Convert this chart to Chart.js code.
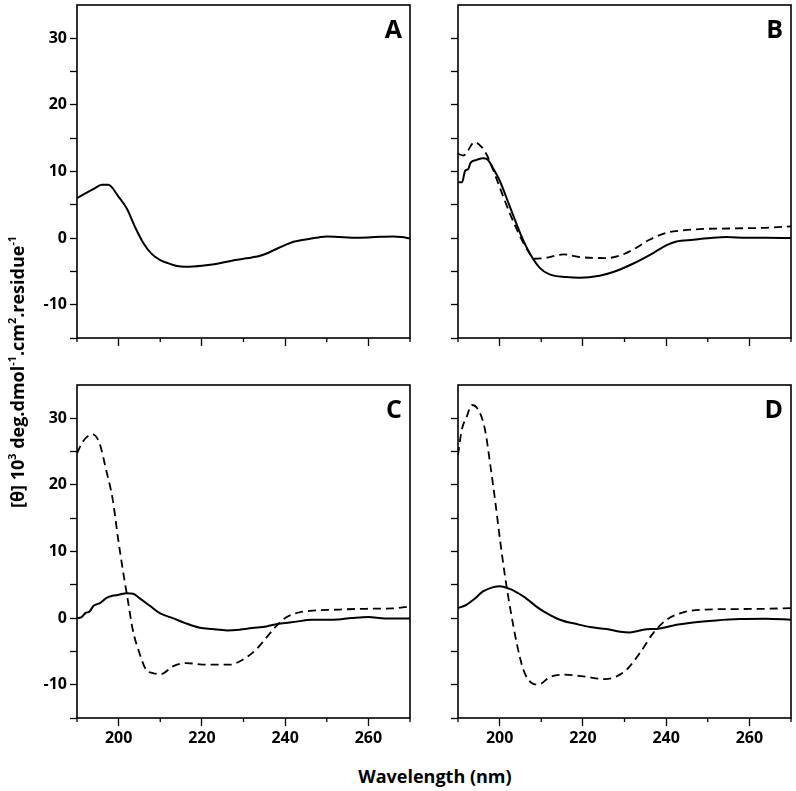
<!DOCTYPE html>
<html>
<head>
<meta charset="utf-8">
<script src="https://cdn.jsdelivr.net/npm/chart.js@4/dist/chart.umd.min.js"></script>
<style>
  html, body { margin: 0; padding: 0; background: #fff; }
  body { width: 796px; height: 791px; position: relative; overflow: hidden; font-family: "Open Sans", sans-serif; }
  canvas { position: absolute; }
  #ytitle { position: absolute; left: 17px; top: 372px; transform: translate(-50%, -50%) rotate(-90deg);
            white-space: nowrap; font-weight: bold; font-size: 18px; color: #000; }
  #xtitle { position: absolute; left: 435px; top: 776px; transform: translate(-50%, -50%);
            white-space: nowrap; font-weight: bold; font-size: 18px; color: #000; }
  sup { font-size: 0.6em; vertical-align: 0.7em; line-height: 0; }
</style>
</head>
<body>
<canvas id="cA" width="414" height="360" style="left:0px;top:0px"></canvas>
<canvas id="cB" width="414" height="360" style="left:381px;top:0px"></canvas>
<canvas id="cC" width="414" height="370" style="left:0px;top:380px"></canvas>
<canvas id="cD" width="414" height="370" style="left:381px;top:380px"></canvas>
<div id="ytitle">[θ] 10<sup>3</sup> deg.dmol<sup>-1</sup>.cm<sup>2</sup>.residue<sup>-1</sup></div>
<div id="xtitle">Wavelength (nm)</div>
<script>
// ---- Data (wavelength in nm, [θ] in 10^3 deg.dmol-1.cm2.residue-1) ----
const wlA = [190,192,194,196,197.5,200,202,204,206,208,210,212,214,216,218,220,222,224,226,228,230,232,234,236,238,240,242,244,246,248,250,253,256,260,263,266,268,270];
const thetaA = [6.0,6.7,7.4,8.0,8.0,6.2,4.4,1.6,-0.8,-2.4,-3.3,-3.8,-4.2,-4.3,-4.25,-4.15,-4.0,-3.8,-3.55,-3.3,-3.1,-2.9,-2.65,-2.2,-1.6,-1.05,-0.55,-0.3,-0.1,0.1,0.25,0.15,0.05,0.1,0.2,0.25,0.15,-0.05];

const wlBsolid = [190,191,191.7,192.5,193,194.5,196,197,198.5,200,202.5,205,207.3,209.7,212,216,219.3,224,227.3,232,237,240,242.5,246.5,251.3,254.5,259.3,264,270];
const thetaBsolid = [8.4,8.4,10.1,10.4,11.3,11.75,12.0,11.85,10.4,8.65,4.65,0.65,-2.35,-4.5,-5.45,-5.85,-5.95,-5.65,-5.1,-3.85,-2.2,-1.1,-0.5,-0.25,0.05,0.15,0.05,0.05,0];
const wlBdash = [190,191.3,194,195.7,197,198.5,200,202.5,205,207,208.2,211.3,215.3,219.3,225.7,229,232,236,240,244,248,256,264,270];
const thetaBdash = [12.65,12.4,14.4,13.65,12.4,10.15,7.65,3.65,0.15,-2.1,-3.1,-2.95,-2.45,-2.85,-3.0,-2.6,-1.75,-0.25,0.8,1.15,1.35,1.45,1.55,1.75];

const wlCsolid = [190,191,192,193,194,195.5,197,198.5,200,202,203.5,205,207.5,210,213,216,219.5,222.5,226,229,232,235.5,238.5,242,246.5,251.5,256,260,264,270];
const thetaCsolid = [0,0.1,0.75,1.0,1.85,2.25,3.0,3.35,3.5,3.75,3.65,3.0,1.85,0.7,0,-0.75,-1.45,-1.65,-1.85,-1.75,-1.5,-1.25,-0.85,-0.6,-0.25,-0.25,0,0.15,-0.05,-0.05];
const wlCdash = [190,191.4,193.8,195.4,197,198.6,199.8,201,202.2,203.4,205,206.6,208.2,210.2,213,216.2,221,226.6,229.8,233,235.4,237.8,240.2,243.4,247.4,251.4,259.4,265.8,270];
const thetaCdash = [24.75,26.5,27.6,26.25,22.25,17.75,12.25,7.25,2.75,-1.75,-5.25,-7.75,-8.25,-8.4,-7.25,-6.75,-7.0,-7.0,-6.25,-4.75,-3.0,-1.25,0.1,0.85,1.15,1.25,1.4,1.45,1.75];

const wlDsolid = [190,192,193.7,196,198.5,200,202.6,205.7,209.7,214.5,218.5,221.7,225.7,229,231.3,234.5,238.5,242.5,246.5,252,257.7,264,270];
const thetaDsolid = [1.5,2.0,2.75,4.0,4.65,4.8,4.35,3.25,1.35,-0.25,-0.9,-1.35,-1.65,-2.05,-2.15,-1.75,-1.55,-1.0,-0.65,-0.35,-0.15,-0.1,-0.25];
const wlDdash = [190,190.9,192.1,193.3,194.9,196.5,197.7,198.9,200.1,201.3,202.6,204.1,205.7,207.7,209.3,212.1,215.3,220.1,225.3,228.1,230.5,233.7,236.9,240.1,244.1,248.1,256.1,264.1,270];
const thetaDdash = [24.5,28.25,30.25,32.0,31.25,28.25,23.25,17.75,11.75,6.25,1.25,-3.75,-7.75,-9.75,-10.0,-8.85,-8.5,-8.75,-9.15,-8.75,-7.75,-5.25,-2.25,-0.25,0.85,1.25,1.35,1.4,1.5];

// axis settings
const xMin = 190, xMax = 270, xStep = 10, xLabelEvery = 20;
const yMin = -15, yMax = 35, yStep = 5, yLabelEvery = 10;
const panelLetters = ['A', 'B', 'C', 'D'];

function pts(xs, ys) { return xs.map((x, i) => ({ x: x, y: ys[i] })); }

const solidStyle = { borderColor: '#000', borderWidth: 2, pointRadius: 0, cubicInterpolationMode: 'monotone', fill: false };
const dashStyle = { borderColor: '#000', borderWidth: 1.8, borderDash: [8, 5], pointRadius: 0, cubicInterpolationMode: 'monotone', fill: false };

const tickFont = { family: 'Open Sans', weight: 'bold', size: 16 };

const framePlugin = {
  id: 'frame',
  afterDraw(chart, args, opts) {
    const { ctx, chartArea: a } = chart;
    const xs = chart.scales.x;
    ctx.save();
    ctx.strokeStyle = '#000';
    ctx.lineWidth = 1.6;
    ctx.strokeRect(a.left, a.top, a.right - a.left, a.bottom - a.top);
    // minor x ticks (shorter)
    ctx.lineWidth = 1.3;
    for (let v = xMin; v <= xMax; v += xStep) {
      if (v % xLabelEvery !== 0) {
        const px = xs.getPixelForValue(v);
        ctx.beginPath();
        ctx.moveTo(px, a.bottom);
        ctx.lineTo(px, a.bottom + 4);
        ctx.stroke();
      }
    }
    // panel letter
    ctx.fillStyle = '#000';
    ctx.font = 'bold 25px "Open Sans"';
    ctx.textAlign = 'right';
    ctx.textBaseline = 'alphabetic';
    ctx.fillText(opts.letter, a.right - 8, a.top + 33);
    ctx.restore();
  }
};

function makePanel(id, letter, datasets, showX, showY, xHeight) {
  return new Chart(document.getElementById(id), {
    type: 'line',
    data: { datasets: datasets },
    plugins: [framePlugin],
    options: {
      responsive: false,
      animation: false,
      events: [],
      layout: { padding: { top: 5, right: 4, left: 0, bottom: 0 } },
      plugins: { legend: { display: false }, tooltip: { enabled: false }, frame: { letter: letter } },
      scales: {
        x: {
          type: 'linear', min: xMin, max: xMax,
          afterFit: (s) => { s.height = xHeight; s.paddingLeft = 0; s.paddingRight = 0; },
          border: { display: false },
          grid: {
            drawOnChartArea: false, drawTicks: true, tickLength: 8, tickWidth: 1.3,
            tickColor: (c) => (c.tick && c.tick.value % xLabelEvery === 0) ? '#000' : 'rgba(0,0,0,0)'
          },
          ticks: {
            stepSize: xStep, autoSkip: false, maxRotation: 0, padding: 3, color: '#000', font: tickFont,
            callback: (v) => (showX && v % xLabelEvery === 0) ? String(v) : ''
          }
        },
        y: {
          type: 'linear', min: yMin, max: yMax,
          afterFit: (s) => { s.width = 77; s.paddingTop = 0; s.paddingBottom = 0; },
          border: { display: false },
          grid: {
            drawOnChartArea: false, drawTicks: true, tickLength: 7, tickWidth: 1.3,
            tickColor: (c) => (c.tick && c.tick.value === yMax) ? 'rgba(0,0,0,0)' : '#000'
          },
          ticks: {
            stepSize: yStep, autoSkip: false, padding: 3, color: '#000', font: tickFont,
            callback: (v) => (showY && v % yLabelEvery === 0 && v > yMin && v < yMax) ? String(v) : ''
          }
        }
      }
    }
  });
}

makePanel('cA', panelLetters[0], [Object.assign({ data: pts(wlA, thetaA) }, solidStyle)], false, true, 22);
makePanel('cB', panelLetters[1], [
  Object.assign({ data: pts(wlBsolid, thetaBsolid) }, solidStyle),
  Object.assign({ data: pts(wlBdash, thetaBdash) }, dashStyle)
], false, false, 22);
makePanel('cC', panelLetters[2], [
  Object.assign({ data: pts(wlCsolid, thetaCsolid) }, solidStyle),
  Object.assign({ data: pts(wlCdash, thetaCdash) }, dashStyle)
], true, true, 32);
makePanel('cD', panelLetters[3], [
  Object.assign({ data: pts(wlDsolid, thetaDsolid) }, solidStyle),
  Object.assign({ data: pts(wlDdash, thetaDdash) }, dashStyle)
], true, false, 32);
</script>
</body>
</html>
